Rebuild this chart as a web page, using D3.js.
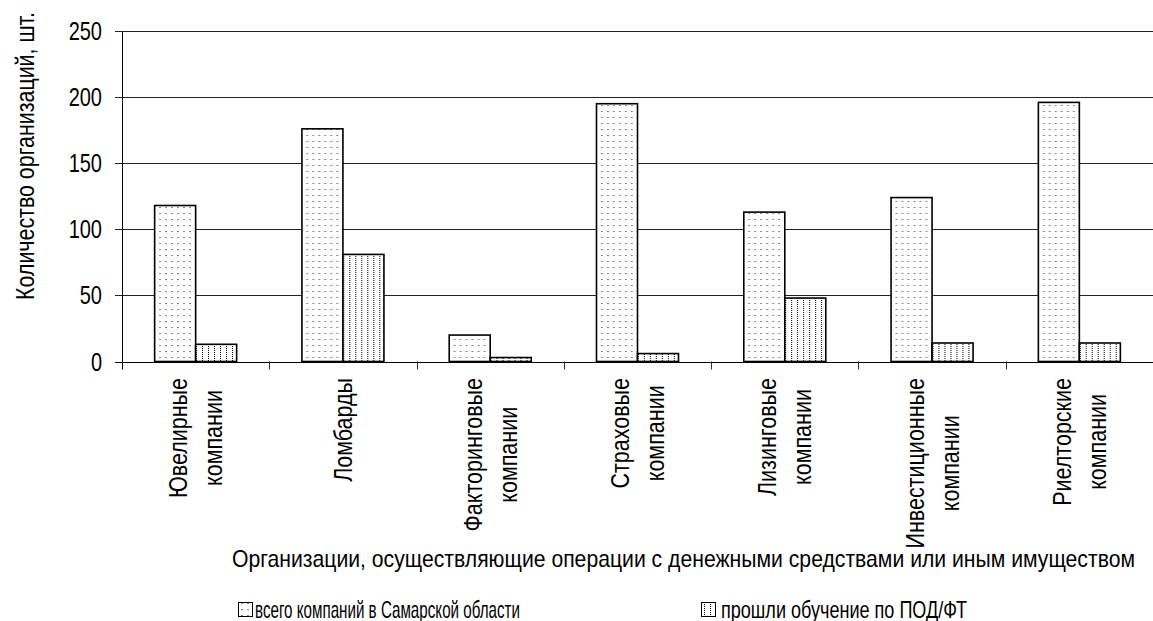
<!DOCTYPE html>
<html>
<head>
<meta charset="utf-8">
<script src="https://cdn.jsdelivr.net/npm/d3@7"></script>
<style>
  body { margin: 0; background: #fff; }
  text { font-family: "Liberation Sans", Arial, sans-serif; fill: #000; }
</style>
</head>
<body>
<script>
// chart values
const categories = ["Ювелирные компании", "Ломбарды", "Факторинговые компании", "Страховые компании",
                    "Лизинговые компании", "Инвестиционные компании", "Риелторские компании"];
const seriesNames = ["всего компаний в Самарской области", "прошли обучение по ПОД/ФТ"];
const totalCompanies = [118, 176, 20, 195, 113, 124, 196];
const trainedCompanies = [13, 81, 3, 6, 48, 14, 14];
const yTicks = [0, 50, 100, 150, 200, 250];
const yTitle = "Количество организаций, шт.";
const xTitle = "Организации, осуществляющие операции с денежными средствами или иным имуществом";

const width = 1153, height = 621;
const plot = { left: 122, right: 1153, top: 31, bottom: 361.5 };

const svg = d3.select('body').append('svg')
  .attr('width', width)
  .attr('height', height);

// squeeze text horizontally like the narrow font in the original
function condense(sel, k) {
  sel.each(function () {
    const w = this.getComputedTextLength();
    d3.select(this).attr('textLength', w * k).attr('lengthAdjust', 'spacingAndGlyphs');
  });
}

// fill patterns
const defs = svg.append('defs');
const dots = defs.append('pattern').attr('id', 'dots')
  .attr('patternUnits', 'userSpaceOnUse').attr('width', 6).attr('height', 6);
dots.append('rect').attr('width', 6).attr('height', 6).attr('fill', '#fff');
dots.append('rect').attr('x', 1).attr('y', 3).attr('width', 2).attr('height', 1).attr('fill', '#8a8a8a');

const vlines = defs.append('pattern').attr('id', 'vlines')
  .attr('patternUnits', 'userSpaceOnUse').attr('width', 6).attr('height', 2);
vlines.append('rect').attr('width', 6).attr('height', 2).attr('fill', '#fff');
vlines.append('rect').attr('x', 2).attr('y', 0).attr('width', 1).attr('height', 1).attr('fill', '#000');

const fills = ['url(#dots)', 'url(#vlines)'];

// scales
const x0 = d3.scaleBand().domain(categories).range([plot.left, plot.right]).padding(0);
const barW = 41;
const x1 = d3.scaleBand().domain(seriesNames)
  .range([x0.bandwidth() / 2 - barW, x0.bandwidth() / 2 + barW]).padding(0);
const y = d3.scaleLinear().domain([0, 250]).range([plot.bottom, plot.top]);

// gridlines + y ticks
svg.append('g').selectAll('line')
  .data(yTicks.filter(d => d > 0))
  .join('line')
  .attr('x1', plot.left - 7).attr('x2', plot.right)
  .attr('y1', d => Math.round(y(d)) + 0.5).attr('y2', d => Math.round(y(d)) + 0.5)
  .attr('stroke', '#222').attr('stroke-width', 1);

svg.append('g').selectAll('text')
  .data(yTicks)
  .join('text')
  .attr('x', 102).attr('y', d => y(d))
  .attr('text-anchor', 'end')
  .attr('dominant-baseline', 'central')
  .style('font-size', '25px')
  .text(d => d)
  .call(condense, 0.8);

// bars
const rows = categories.map((c, i) => ({ cat: c, vals: [totalCompanies[i], trainedCompanies[i]] }));
const groups = svg.append('g').selectAll('g')
  .data(rows)
  .join('g')
  .attr('transform', d => `translate(${x0(d.cat)},0)`);

groups.selectAll('rect')
  .data(d => d.vals.map((v, j) => ({ s: seriesNames[j], v, j })))
  .join('rect')
  .attr('x', d => x1(d.s))
  .attr('y', d => y(d.v))
  .attr('width', x1.bandwidth())
  .attr('height', d => y(0) - y(d.v))
  .attr('fill', d => fills[d.j])
  .attr('stroke', '#000')
  .attr('stroke-width', 1.6);

// axes lines
svg.append('line')
  .attr('x1', plot.left - 7).attr('x2', plot.right)
  .attr('y1', Math.round(y(0)) + 0.5).attr('y2', Math.round(y(0)) + 0.5)
  .attr('stroke', '#000');
svg.append('line')
  .attr('x1', plot.left + 0.5).attr('x2', plot.left + 0.5)
  .attr('y1', plot.top).attr('y2', y(0) + 8)
  .attr('stroke', '#000');
svg.append('g').selectAll('line')
  .data(categories.slice(1))
  .join('line')
  .attr('x1', d => Math.round(x0(d)) + 0.5).attr('x2', d => Math.round(x0(d)) + 0.5)
  .attr('y1', y(0)).attr('y2', y(0) + 8)
  .attr('stroke', '#333');

// category labels, rotated
const labelG = svg.append('g').selectAll('g')
  .data(categories)
  .join('g');
labelG.each(function (c) {
  const g = d3.select(this);
  const lines = c.split(' ');
  const texts = g.selectAll('text')
    .data(lines)
    .join('text')
    .attr('text-anchor', 'middle')
    .attr('dominant-baseline', 'central')
    .attr('y', (d, i) => lines.length === 1 ? 0 : (i === 0 ? -17.5 : 17.5))
    .style('font-size', '25px')
    .text(d => d)
    .call(condense, 0.86);
  let maxLen = 0;
  texts.each(function () { maxLen = Math.max(maxLen, +this.getAttribute('textLength')); });
  g.attr('transform', `translate(${x0(c) + x0.bandwidth() / 2},${378 + maxLen / 2}) rotate(-90)`);
});

// titles
svg.append('text')
  .attr('transform', 'translate(25,156) rotate(-90)')
  .attr('text-anchor', 'middle')
  .attr('dominant-baseline', 'central')
  .attr('textLength', 288).attr('lengthAdjust', 'spacingAndGlyphs')
  .style('font-size', '25px')
  .text(yTitle);

svg.append('text')
  .attr('x', 232).attr('y', 558)
  .attr('dominant-baseline', 'central')
  .attr('textLength', 903).attr('lengthAdjust', 'spacingAndGlyphs')
  .style('font-size', '24px')
  .text(xTitle);

// legend
const legendItems = [
  { name: seriesNames[0], bx: 238, tx: 255, len: 265 },
  { name: seriesNames[1], bx: 701, tx: 721, len: 246 }
];
const lg = svg.append('g').selectAll('g')
  .data(legendItems)
  .join('g');
lg.append('rect')
  .attr('x', d => d.bx + 0.5).attr('y', 602.5)
  .attr('width', 14).attr('height', 14)
  .attr('fill', (d, i) => fills[i])
  .attr('stroke', '#000');
lg.append('text')
  .attr('x', d => d.tx).attr('y', 609)
  .attr('dominant-baseline', 'central')
  .attr('textLength', d => d.len).attr('lengthAdjust', 'spacingAndGlyphs')
  .style('font-size', '24px')
  .text(d => d.name);
</script>
</body>
</html>
